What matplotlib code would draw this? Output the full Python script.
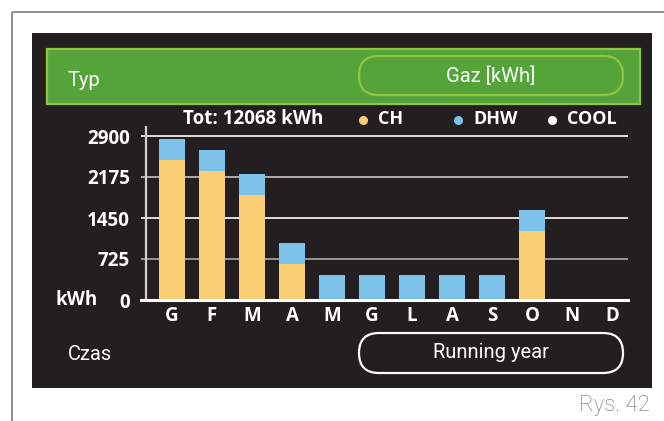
import matplotlib
matplotlib.use("Agg")
import matplotlib.pyplot as plt
from matplotlib.patches import Rectangle, FancyBboxPatch

# Monthly gas consumption (kWh), running year
months = ['G', 'F', 'M', 'A', 'M', 'G', 'L', 'A', 'S', 'O', 'N', 'D']
ch_kwh = [2475, 2280, 1860, 640, 0, 0, 0, 0, 0, 1220, 0, 0]
dhw_kwh = [370, 370, 370, 365, 440, 440, 440, 440, 440, 370, 0, 0]
cool_kwh = [0, 0, 0, 0, 0, 0, 0, 0, 0, 0, 0, 0]
y_ticks = [0, 725, 1450, 2175, 2900]
y_labels = ['0', '725', '1450', '2175', '2900']
total_text = 'Tot: 12068 kWh'

DARK = '#231f20'
GREEN = '#55a43a'
GREEN_EDGE = '#8dc63f'
CH_COL = '#f9cd72'
DHW_COL = '#7dc2ea'
COOL_COL = '#ffffff'

BOLD = ['Open Sans', 'DejaVu Sans']
NARROW = ['Roboto', 'DejaVu Sans']

W, H = 664, 421
fig = plt.figure(figsize=(W / 100, H / 100), dpi=100)
fig.patch.set_facecolor('white')

# Background layer in pixel coordinates
bg = fig.add_axes([0, 0, 1, 1], zorder=0)
bg.set_xlim(0, W)
bg.set_ylim(H, 0)
bg.axis('off')

# page frame
bg.plot([12, W], [12, 12], color='#7a7a7a', lw=1.2, solid_capstyle='butt')
bg.plot([12, 12], [12, H], color='#7a7a7a', lw=1.2, solid_capstyle='butt')

# display panel
bg.add_patch(Rectangle((32, 33), 620, 355, facecolor=DARK, edgecolor='none'))

# header bar
bg.add_patch(Rectangle((47, 49), 593, 55, facecolor=GREEN, edgecolor=GREEN_EDGE, lw=1.6))
bg.add_patch(FancyBboxPatch((359, 56), 264, 39,
                            boxstyle='round,pad=0,rounding_size=19.5',
                            facecolor=GREEN, edgecolor=GREEN_EDGE, lw=1.6))
bg.text(68, 80, 'Typ', color='white', fontsize=14.5, family=NARROW,
        ha='left', va='center')
bg.text(491, 76, 'Gaz [kWh]', color='white', fontsize=14.5, family=NARROW,
        ha='center', va='center')

# footer row
bg.add_patch(FancyBboxPatch((359, 333), 264, 40,
                            boxstyle='round,pad=0,rounding_size=20',
                            facecolor=DARK, edgecolor='white', lw=1.6))
bg.text(68, 355, 'Czas', color='white', fontsize=14.5, family=NARROW,
        ha='left', va='center')
bg.text(491, 353, 'Running year', color='white', fontsize=14.5, family=NARROW,
        ha='center', va='center')
bg.text(650, 406, 'Rys. 42', color='#6d6e71', fontsize=16, family=NARROW,
        fontweight='light', ha='right', va='center')

# totals and legend
bg.text(183, 119, total_text, color='white', fontsize=13.5, family=BOLD,
        fontweight='bold', ha='left', va='center')
for x_dot, col, name in [(363, CH_COL, 'CH'), (458, DHW_COL, 'DHW'), (552, COOL_COL, 'COOL')]:
    bg.plot([x_dot], [120], 'o', color=col, markersize=6.5, markeredgewidth=0)
    bg.text(x_dot + 15, 119, name, color='white', fontsize=13, family=BOLD,
            fontweight='bold', ha='left', va='center')
bg.text(98, 300, 'kWh', color='white', fontsize=13.5, family=BOLD,
        fontweight='bold', ha='right', va='center')

# Chart axes: 40 px per month, 164 px per 2900 kWh
x0_px, x1_px = 141, 628
y_top_px, y0_px = 126, 300
ax = fig.add_axes([x0_px / W, (H - y0_px) / H, (x1_px - x0_px) / W, (y0_px - y_top_px) / H],
                  zorder=1)
ax.patch.set_alpha(0)
ax.set_xlim((x0_px - 172) / 40, (x1_px - 172) / 40)
ax.set_ylim(0, (y0_px - y_top_px) / 164 * 2900)
for s in ax.spines.values():
    s.set_visible(False)

grid_cols = {725: '#a8a8a8', 1450: '#ffffff', 2175: '#c4c4c4', 2900: '#ffffff'}
for v, c in grid_cols.items():
    ax.axhline(v, color=c, lw=1.2, zorder=1)
ax.axvline((146 - 172) / 40, color='#cfcfcf', lw=1.6, zorder=1)

xs = list(range(len(months)))
bw = 26 / 40
ax.bar(xs, ch_kwh, width=bw, color=CH_COL, zorder=2)
ax.bar(xs, dhw_kwh, width=bw, bottom=ch_kwh, color=DHW_COL, zorder=2)
ax.bar(xs, cool_kwh, width=bw,
       bottom=[a + b for a, b in zip(ch_kwh, dhw_kwh)], color=COOL_COL, zorder=2)

ax.axhline(0, color='white', lw=2.2, zorder=3, clip_on=False)

ax.set_yticks(y_ticks)
ax.set_yticklabels(y_labels)
ax.set_xticks(xs)
ax.set_xticklabels(months)
ax.tick_params(axis='y', length=0, pad=8, labelcolor='white', labelsize=13.5)
ax.tick_params(axis='x', length=0, pad=4, labelcolor='white', labelsize=13.5)
for lab in ax.get_yticklabels() + ax.get_xticklabels():
    lab.set_fontweight('bold')
    lab.set_family(BOLD)

fig.savefig('out.png', dpi=100, facecolor='white')
